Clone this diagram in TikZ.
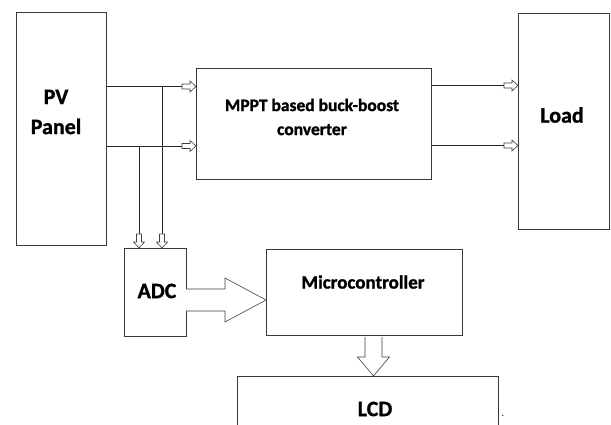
\documentclass[tikz,border=0pt]{standalone}
\usepackage{fontspec}
\setmainfont{Carlito}[BoldFeatures={FakeBold=1.2}]
\begin{document}
\begin{tikzpicture}[x=1pt,y=-1pt,
  box/.style={draw=black!78, line width=0.8pt, inner sep=0pt, anchor=north west},
  lbl/.style={font=\bfseries, text=black, inner sep=0pt, align=center},
  wire/.style={draw=black!85, line width=0.8pt},
  arr/.style={draw=black!75, line width=0.6pt, fill=white, line join=miter},
  smallarr/.pic={\draw[arr] (0,0) -- (-6,-5.5) -- (-6,-2.5) -- (-14,-2.5) -- (-14,2.5) -- (-6,2.5) -- (-6,5.5) -- cycle;},
  bigarr/.pic={\draw[arr] (-80,-11) -- (-41,-11) -- (-41,-22) -- (0,0) -- (-41,22) -- (-41,11) -- (-80,11);},
  downarr/.pic={\draw[arr] (-39,-8.5) -- (-19,-8.5) -- (-19,-16) -- (0,0) -- (-19,16) -- (-19,8.5) -- (-39,8.5);}
]
\useasboundingbox (0,0) rectangle (611,425);
% boxes
\node[box, minimum width=90pt, minimum height=233pt] (pv) at (16,12) {};
\node[box, minimum width=235pt, minimum height=111pt] (mppt) at (196,68) {};
\node[box, minimum width=91pt, minimum height=216pt] (load) at (518,13) {};
\node[box, minimum width=62pt, minimum height=88pt] (adc) at (124,248) {};
\node[box, minimum width=196pt, minimum height=86pt] (mc) at (266,249) {};
\node[inner sep=0pt, anchor=north west, minimum width=261pt, minimum height=52pt] (lcd) at (237,376) {};
\draw[draw=black!78, line width=0.8pt] (lcd.south west) -- (lcd.north west) -- (lcd.north east) -- (lcd.south east);
% texts
\node[lbl, font=\bfseries\fontsize{22}{30}\selectfont] (pvt) at (56,112) {PV\\Panel};
\node[lbl, font=\bfseries\fontsize{17.5}{24}\selectfont] (mpptt) at (312,117) {MPPT based buck-boost\\converter};
\node[lbl, font=\bfseries\fontsize{22}{26}\selectfont] (loadt) at (562,115) {Load};
\node[lbl, font=\bfseries\fontsize{22}{26}\selectfont] (adct) at (157,291) {ADC};
\node[lbl, font=\bfseries\fontsize{19}{22}\selectfont] (mct) at (363,282) {Microcontroller};
\node[lbl, font=\bfseries\fontsize{22}{24}\selectfont] (lcdt) at (375,409) {LCD};
\node[lbl, font=\fontsize{10}{12}\selectfont] (dot) at (503,416) {.};
% reference rows
\coordinate (r1) at (0,86.5);
\coordinate (r2) at (0,146);
\coordinate (q1) at (0,85.5);
\coordinate (q2) at (0,145.5);
\coordinate (c1) at (162,0);
\coordinate (c2) at (139,0);
% PV -> MPPT
\draw[wire] (pv.east |- r1) -- (mppt.west |- r1);
\draw[wire] (pv.east |- r2) -- (mppt.west |- r2);
\pic at (mppt.west |- r1) {smallarr};
\pic at (mppt.west |- r2) {smallarr};
% MPPT -> Load
\draw[wire] (mppt.east |- q1) -- (load.west |- q1);
\draw[wire] (mppt.east |- q2) -- (load.west |- q2);
\pic at (load.west |- q1) {smallarr};
\pic at (load.west |- q2) {smallarr};
% taps to ADC
\draw[wire] (c1 |- r1) -- (c1 |- adc.north);
\draw[wire] (c2 |- r2) -- (c2 |- adc.north);
\pic[rotate=-90] at (c1 |- adc.north) {smallarr};
\pic[rotate=-90] at (c2 |- adc.north) {smallarr};
% ADC -> Microcontroller
\coordinate (ba) at (0,300);
\pic at (mc.west |- ba) {bigarr};
% Microcontroller -> LCD
\coordinate (da) at (373.5,0);
\pic[rotate=-90] at (da |- lcd.north) {downarr};
\end{tikzpicture}
\end{document}
